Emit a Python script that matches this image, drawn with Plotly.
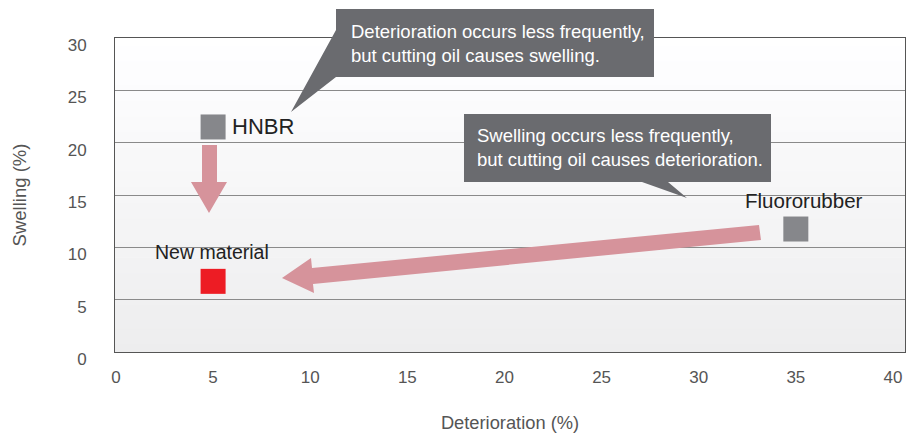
import plotly.graph_objects as go

# ---- data ----
materials = ["HNBR", "Fluororubber", "New material"]
deterioration = [5, 35, 5]
swelling = [21.5, 11.75, 6.75]
marker_colors = ["#86878b", "#86878b", "#ed1c24"]

x_ticks = [0, 5, 10, 15, 20, 25, 30, 35, 40]
y_ticks = [0, 5, 10, 15, 20, 25, 30]

callout_texts = [
    "Deterioration occurs less frequently,<br>but cutting oil causes swelling.",
    "Swelling occurs less frequently,<br>but cutting oil causes deterioration.",
]

# ---- layout geometry (pixels) ----
W, H = 906, 433
L, R, T, B = 115, 905, 38, 352
PW, PH = R - L, B - T


def px(xp):
    return (xp - L) / PW


def py(yp):
    return (B - yp) / PH


def path(points):
    return "M " + " L ".join(f"{px(a):.5f},{py(b):.5f}" for a, b in points) + " Z"


FONT = "Liberation Sans, Arial, Helvetica, sans-serif"

fig = go.Figure()
fig.add_trace(go.Scatter(
    x=deterioration, y=swelling, mode="markers",
    marker=dict(symbol="square", size=25, color=marker_colors, line=dict(width=0)),
    hoverinfo="skip", showlegend=False, cliponaxis=False,
))

shapes = []
# gradient background
N = 40
for i in range(N):
    f0 = i / N
    f1 = (i + 1) / N
    t = (f0 + f1) / 2  # 0 at bottom, 1 at top
    v = round(237 + (255 - 237) * t)
    shapes.append(dict(type="rect", xref="paper", yref="paper", x0=0, x1=1,
                       y0=f0, y1=f1 + 0.002, fillcolor=f"rgb({v},{v},{min(v + 1, 255)})",
                       line=dict(width=0), layer="below"))

ARROW = "#d6939b"
# down arrow (HNBR -> new material)
shapes.append(dict(type="path", xref="paper", yref="paper",
                   path=path([(202, 145), (217, 145), (217, 182), (227, 182),
                              (209, 213), (191, 182), (202, 182)]),
                   fillcolor=ARROW, line=dict(width=0), layer="above"))
# long arrow (Fluororubber -> new material)
shapes.append(dict(type="path", xref="paper", yref="paper",
                   path=path([(282, 278), (311, 258), (312, 268), (759, 225),
                              (761, 240), (313, 284), (314, 293)]),
                   fillcolor=ARROW, line=dict(width=0), layer="above"))

BOX = "#6a6b6f"
shapes.append(dict(type="path", xref="paper", yref="paper",
                   path=path([(654, 9), (336, 9), (336, 30), (291, 112),
                              (336, 77), (654, 77)]),
                   fillcolor=BOX, line=dict(width=0), layer="above"))
shapes.append(dict(type="path", xref="paper", yref="paper",
                   path=path([(464, 114), (771, 114), (771, 182), (668, 182),
                              (687, 198), (642, 182), (464, 182)]),
                   fillcolor=BOX, line=dict(width=0), layer="above"))

annotations = [
    dict(x=deterioration[0], y=swelling[0], xref="x", yref="y", text=materials[0],
         showarrow=False, xanchor="left", yanchor="middle", xshift=17, yshift=0,
         font=dict(family=FONT, size=22, color="#222")),
    dict(x=deterioration[1], y=swelling[1], xref="x", yref="y", text=materials[1],
         showarrow=False, xanchor="center", yanchor="middle", xshift=8, yshift=29,
         font=dict(family=FONT, size=20.5, color="#222")),
    dict(x=deterioration[2], y=swelling[2], xref="x", yref="y", text=materials[2],
         showarrow=False, xanchor="center", yanchor="middle", xshift=-1, yshift=29,
         font=dict(family=FONT, size=19.5, color="#222")),
    dict(x=px(349), y=py(43), xref="paper", yref="paper", text=callout_texts[0],
         showarrow=False, xanchor="left", yanchor="middle", align="left",
         font=dict(family=FONT, size=18.5, color="white")),
    dict(x=px(475), y=py(147), xref="paper", yref="paper", text=callout_texts[1],
         showarrow=False, xanchor="left", yanchor="middle", align="left",
         font=dict(family=FONT, size=18.5, color="white")),
]

fig.update_layout(
    width=W, height=H,
    margin=dict(l=L, r=W - R, t=T, b=H - B, pad=0),
    paper_bgcolor="white", plot_bgcolor="rgba(0,0,0,0)",
    shapes=shapes, annotations=annotations,
    font=dict(family=FONT, color="#555"),
    xaxis=dict(range=[-0.05, 40.62], tickvals=x_ticks, showgrid=False, zeroline=False,
               showline=True, linecolor="#555", linewidth=1, mirror=True,
               ticks="", tickfont=dict(size=17, color="#555"), ticklabelstandoff=10,
               automargin=False,
               title=dict(text="Deterioration (%)", font=dict(size=18.3, color="#555"),
                          standoff=31)),
    yaxis=dict(range=[0, 30], tickvals=y_ticks, showgrid=True, gridcolor="#8a8a8a",
               gridwidth=1, zeroline=False, showline=True, linecolor="#555",
               linewidth=1, mirror=True, ticks="", tickfont=dict(size=17, color="#555"),
               ticklabelstandoff=24, ticklabelshift=7, automargin=False,
               title=dict(text="Swelling (%)", font=dict(size=18.5, color="#555"),
                          standoff=36)),
)

fig.write_html(
    "out.html",
    config={"displayModeBar": False, "staticPlot": True},
    post_script="document.body.style.margin='0';document.body.style.overflow='hidden';",
)
